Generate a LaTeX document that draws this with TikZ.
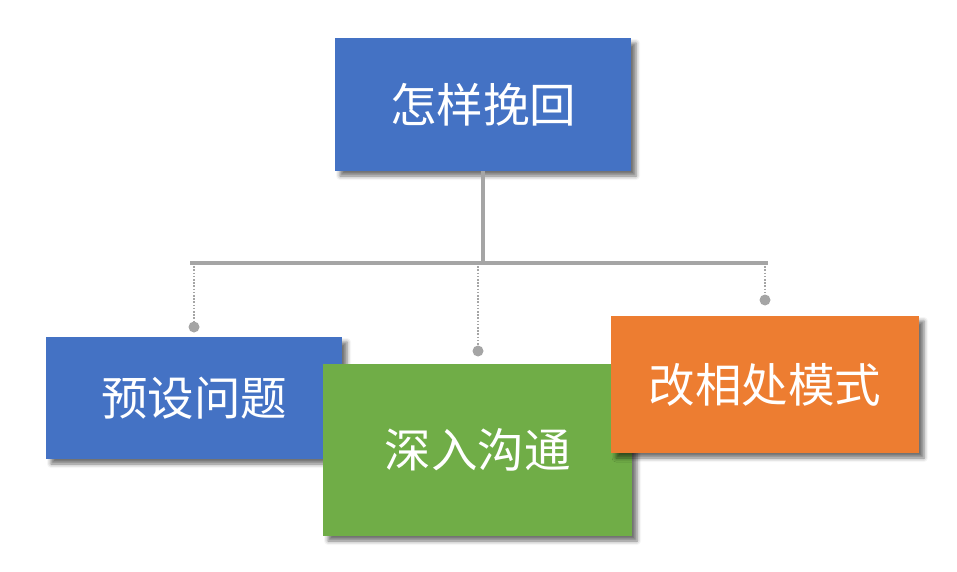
\documentclass[tikz,border=0pt]{standalone}
\usepackage{fontspec}
\newfontfamily\cjk{Noto Sans CJK SC}
\usetikzlibrary{shadows.blur}
\definecolor{cblue}{HTML}{4472C4}
\definecolor{cgreen}{HTML}{70AD47}
\definecolor{corange}{HTML}{ED7D31}
\definecolor{cgrey}{HTML}{A5A5A5}
\begin{document}
\begin{tikzpicture}[x=1pt,y=-1pt,
  box/.style={draw=none, inner sep=0pt, anchor=center, text=white,
    font=\cjk\fontsize{46.5}{52}\selectfont,
    blur shadow={shadow xshift=5pt, shadow yshift=-5pt, shadow blur radius=4pt, shadow opacity=55}},
  trunk/.style={draw=cgrey, line width=3.5pt},
  bar/.style={draw=cgrey, line width=4pt},
  dotline/.style={draw=cgrey, line width=2pt, dash pattern=on 1.6pt off 1.6pt},
  knob/.style={circle, fill=cgrey, draw=none, inner sep=0pt, minimum size=11pt}]
\useasboundingbox (0,0) rectangle (957,572);
% top box
\node[box, fill=cblue, minimum width=296pt, minimum height=133pt] (top) at (483,104.5) {怎样挽回};
% bar
\coordinate (j) at (483,263);
\coordinate (bl) at (190,263);
\coordinate (br) at (768,263);
\coordinate (bm) at (478,263);
\coordinate (brr) at (765,263);
\draw[trunk] (top.south) -- (j);
\draw[bar] (bl) -- (br);
% knobs
\node[knob] (k1) at (194,327) {};
\node[knob] (k2) at (478,351) {};
\node[knob] (k3) at (765,300) {};
\draw[dotline] (bl -| k1) -- (k1);
\draw[dotline] (bm) -- (k2);
\draw[dotline] (brr) -- (k3);
% bottom boxes
\node[box, fill=cblue, minimum width=296pt, minimum height=122pt] (b1) at (194,398) {预设问题};
\node[box, fill=cgreen, minimum width=309pt, minimum height=172pt] (b2) at (477.5,450) {深入沟通};
\node[box, fill=corange, minimum width=308pt, minimum height=137pt] (b3) at (765,384.5) {改相处模式};
\end{tikzpicture}
\end{document}
